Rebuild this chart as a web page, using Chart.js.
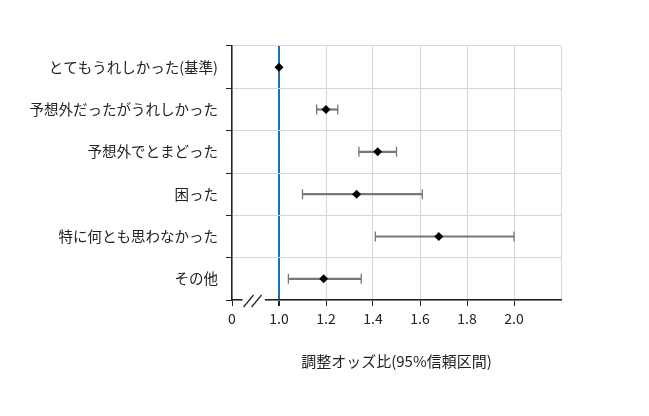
<!DOCTYPE html>
<html>
<head>
<meta charset="utf-8">
<script src="https://cdn.jsdelivr.net/npm/chart.js@4"></script>
<style>
  html, body { margin: 0; padding: 0; background: #fff; }
  #wrap { width: 649px; height: 416px; }
</style>
</head>
<body>
<div id="wrap"><canvas id="chart"></canvas></div>
<script>
const categories = ["とてもうれしかった(基準)", "予想外だったがうれしかった", "予想外でとまどった", "困った", "特に何とも思わなかった", "その他"];
const oddsRatio = [1.0, 1.20, 1.42, 1.33, 1.68, 1.19];
const ciLow = [null, 1.16, 1.34, 1.10, 1.41, 1.04];
const ciHigh = [null, 1.25, 1.50, 1.61, 2.00, 1.35];
const xTickLabels = ["0", "1.0", "1.2", "1.4", "1.6", "1.8", "2.0", ""];
const referenceValue = 1.0;

const FONT = "'Noto Sans CJK JP', 'Noto Sans', sans-serif";
const gridGray = "#d4d5dd";
const barGray = "#777";

const ciBars = categories.map((c, i) => ciLow[i] == null ? null : [ciLow[i], ciHigh[i]]);
const caps = [];
categories.forEach((c, i) => {
  if (ciLow[i] != null) {
    caps.push({ x: ciLow[i], y: c });
    caps.push({ x: ciHigh[i], y: c });
  }
});
const points = categories.map((c, i) => ({ x: oddsRatio[i], y: c }));

// axis break "//" between 0 and 1.0
const axisBreak = {
  id: 'axisBreak',
  afterDraw(chart) {
    const ctx = chart.ctx;
    const xs = chart.scales.x;
    const y0 = chart.chartArea.bottom;
    const a = xs.getPixelForValue(0.845);
    const b = xs.getPixelForValue(0.94);
    ctx.save();
    ctx.fillStyle = '#fff';
    ctx.fillRect(a, y0 - 3, b - a, 6);
    ctx.strokeStyle = '#222';
    ctx.lineWidth = 1.2;
    ctx.beginPath();
    ctx.moveTo(a + 1, y0 + 7); ctx.lineTo(a + 11, y0 - 5);
    ctx.moveTo(a + 9, y0 + 7); ctx.lineTo(a + 19, y0 - 5);
    ctx.stroke();
    ctx.restore();
  }
};

new Chart(document.getElementById('chart').getContext('2d'), {
  type: 'bar',
  data: {
    labels: categories,
    datasets: [
      {
        type: 'line',
        data: points,
        showLine: false,
        pointStyle: 'rectRot',
        pointRadius: 4.5,
        pointBackgroundColor: '#000',
        pointBorderColor: '#000',
        pointBorderWidth: 0,
        order: 0
      },
      {
        type: 'line',
        data: caps,
        showLine: false,
        pointStyle: 'line',
        pointRotation: 90,
        pointRadius: 5,
        pointBorderColor: barGray,
        pointBorderWidth: 1.3,
        order: 1
      },
      {
        data: ciBars,
        backgroundColor: barGray,
        borderWidth: 0,
        barThickness: 1.5,
        order: 2
      }
    ]
  },
  options: {
    indexAxis: 'y',
    responsive: true,
    maintainAspectRatio: false,
    animation: false,
    layout: { padding: { left: 0, right: 88, top: 46, bottom: 0 } },
    plugins: {
      legend: { display: false },
      tooltip: { enabled: false }
    },
    scales: {
      x: {
        type: 'linear',
        min: 0.8,
        max: 2.2,
        afterFit: (s) => { s.height = 116; },
        ticks: {
          stepSize: 0.2,
          color: '#222',
          padding: 4,
          font: { family: FONT, size: 14 },
          callback: (v, i) => xTickLabels[i]
        },
        grid: {
          color: (c) => Math.abs(c.tick.value - referenceValue) < 1e-6 ? '#1b6fb5' : gridGray,
          lineWidth: (c) => Math.abs(c.tick.value - referenceValue) < 1e-6 ? 2 : 1,
          tickColor: (c) => c.tick && c.tick.value > 2.1 ? 'rgba(0,0,0,0)' : '#222',
          tickLength: 6
        },
        border: { color: '#222', width: 1.5 },
        title: {
          display: true,
          text: '調整オッズ比(95%信頼区間)',
          color: '#222',
          font: { family: FONT, size: 15 },
          padding: { top: 0, bottom: 46 }
        }
      },
      y: {
        type: 'category',
        offset: true,
        afterFit: (s) => { s.width = 232; },
        ticks: {
          color: '#222',
          padding: 8,
          font: { family: FONT, size: 14.5 }
        },
        grid: {
          offset: true,
          color: gridGray,
          tickColor: '#222',
          tickLength: 6
        },
        border: { color: '#222', width: 1.5 }
      }
    }
  },
  plugins: [axisBreak]
});
</script>
</body>
</html>
